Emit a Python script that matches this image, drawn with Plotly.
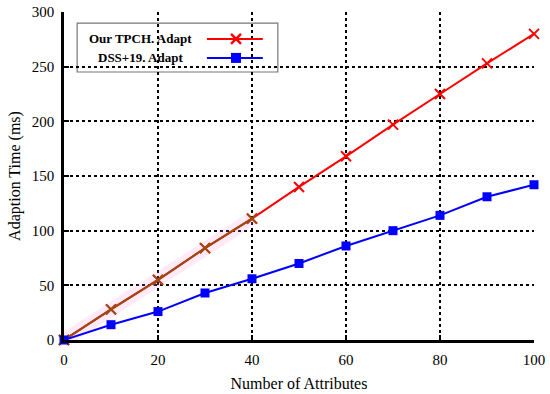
import plotly.graph_objects as go

attributes = [0, 10, 20, 30, 40, 50, 60, 70, 80, 90, 100]
tpch_adapt = [0, 28, 55, 84, 111, 140, 168, 197, 225, 253, 280]
dss_adapt = [0, 14, 26, 43, 56, 70, 86, 100, 114, 131, 142]
series_names = ["Our TPCH. Adapt", "DSS+19. Adapt"]
x_ticks = [0, 20, 40, 60, 80, 100]
y_ticks = [0, 50, 100, 150, 200, 250, 300]

RED = "#ff0000"
BLUE = "#0000ff"
BROWN = "#9c4a12"
FONT = "Liberation Serif"

fig = go.Figure()

# faint pink highlight under the first part of the red line
fig.add_trace(go.Scatter(x=attributes[:5], y=tpch_adapt[:5], mode="lines",
                         line=dict(color="rgba(255,140,220,0.18)", width=14),
                         showlegend=False, hoverinfo="skip"))
fig.add_trace(go.Scatter(x=attributes, y=tpch_adapt, mode="lines+markers",
                         name=series_names[0], line=dict(color=RED, width=2),
                         marker=dict(symbol="x-thin", size=10, color=RED,
                                     line=dict(color=RED, width=2)),
                         showlegend=False, cliponaxis=False))
fig.add_trace(go.Scatter(x=attributes[:5], y=tpch_adapt[:5], mode="lines+markers",
                         line=dict(color=BROWN, width=2),
                         marker=dict(symbol="x-thin", size=10, color=BROWN,
                                     line=dict(color=BROWN, width=2)),
                         showlegend=False, hoverinfo="skip", cliponaxis=False))
fig.add_trace(go.Scatter(x=attributes, y=dss_adapt, mode="lines+markers",
                         name=series_names[1], line=dict(color=BLUE, width=2),
                         marker=dict(symbol="square", size=9, color=BLUE),
                         showlegend=False, cliponaxis=False))

# custom legend (text left, sample right) on an overlay axis in paper-like units
leg_x = [0.304, 0.423]
leg_y_red = [0.918, 0.918]
leg_y_blue = [0.860, 0.860]
fig.add_trace(go.Scatter(x=leg_x, y=leg_y_red, xaxis="x2", yaxis="y2", mode="lines",
                         line=dict(color=RED, width=2), showlegend=False, hoverinfo="skip"))
fig.add_trace(go.Scatter(x=[0.366], y=[leg_y_red[0]], xaxis="x2", yaxis="y2",
                         mode="markers", marker=dict(symbol="x-thin", size=10,
                                                     line=dict(color=RED, width=2.5)),
                         showlegend=False, hoverinfo="skip"))
fig.add_trace(go.Scatter(x=leg_x, y=leg_y_blue, xaxis="x2", yaxis="y2", mode="lines",
                         line=dict(color=BLUE, width=2), showlegend=False, hoverinfo="skip"))
fig.add_trace(go.Scatter(x=[0.366], y=[leg_y_blue[0]], xaxis="x2", yaxis="y2",
                         mode="markers", marker=dict(symbol="square", size=10, color=BLUE),
                         showlegend=False, hoverinfo="skip"))

fig.add_shape(type="rect", xref="paper", yref="paper", x0=0.028, x1=0.455,
              y0=0.817, y1=0.966, line=dict(color="#777777", width=1.2),
              fillcolor="white", layer="between")
for name, yy in zip(series_names, [0.918, 0.860]):
    fig.add_annotation(x=0.162, y=yy, xref="paper", yref="paper", text="<b>" + name + "</b>",
                       showarrow=False, font=dict(family=FONT, size=13, color="black"),
                       xanchor="center", yanchor="middle")

axis_common = dict(showgrid=True, gridcolor="black", griddash="dot", gridwidth=1.5,
                   showline=True, linecolor="black", linewidth=2.5,
                   ticks="inside", ticklen=5, tickwidth=2, tickcolor="black",
                   tickfont=dict(family=FONT, size=15, color="black"),
                   ticklabelstandoff=4,
                   zeroline=False, mirror=False, automargin=False)

fig.update_layout(
    width=550, height=394,
    margin=dict(l=64, r=16, t=12, b=54),
    paper_bgcolor="white", plot_bgcolor="white",
    font=dict(family=FONT, color="black"),
    xaxis=dict(range=[0, 100], tickvals=x_ticks,
               title=dict(text="Number of Attributes", font=dict(family=FONT, size=16), standoff=12),
               **axis_common),
    yaxis=dict(range=[0, 300], tickvals=y_ticks,
               title=dict(text="Adaption Time (ms)", font=dict(family=FONT, size=16), standoff=8),
               **axis_common),
    xaxis2=dict(range=[0, 1], overlaying="x", visible=False, fixedrange=True),
    yaxis2=dict(range=[0, 1], overlaying="y", visible=False, fixedrange=True),
    showlegend=False,
)

fig.write_html("out.html", config={"displayModeBar": False},
               post_script="document.body.style.margin='0';document.body.style.overflow='hidden';")
